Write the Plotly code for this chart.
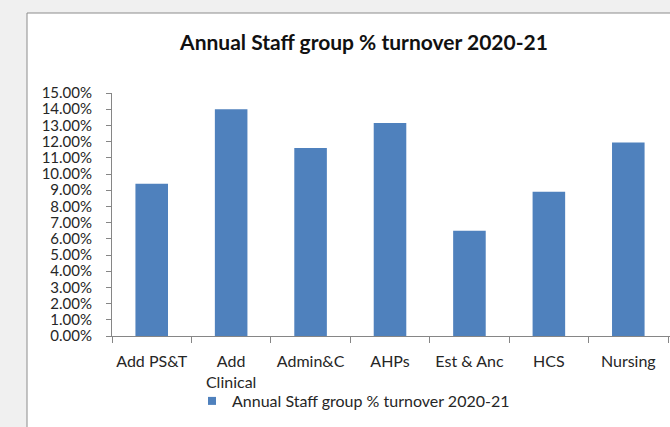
import plotly.graph_objects as go

categories = ["Add PS&T", "Add Clinical", "Admin&C", "AHPs", "Est & Anc", "HCS", "Nursing"]
tick_labels = ["Add PS&T", "Add<br>Clinical", "Admin&C", "AHPs", "Est & Anc", "HCS", "Nursing"]
turnover = [0.094, 0.140, 0.116, 0.1315, 0.065, 0.089, 0.1195]
series_name = "Annual Staff group % turnover 2020-21"
y_ticks = [i / 100 for i in range(0, 16)]

W, H = 670, 427
L, R, T, B = 112, 0, 93, 91
plot_w = W - L - R
plot_h = H - T - B

BAR = "#4F81BD"
AXIS = "#868686"
TXT = "#262626"
FONT = "Lato, Liberation Sans, sans-serif"

fig = go.Figure()
fig.add_trace(go.Bar(
    x=categories, y=turnover, marker=dict(color=BAR, line=dict(width=0)),
    width=0.41, showlegend=False, hoverinfo="x+y",
))
fig.add_trace(go.Scatter(
    x=[None], y=[None], mode="markers", name=series_name,
    marker=dict(symbol="square", size=8, color=BAR),
))


def px_x(px):
    return (px - L) / plot_w


def px_y(py):
    return (H - B - py) / plot_h


fig.add_shape(type="rect", xref="paper", yref="paper", layer="below",
              x0=px_x(27), x1=px_x(700), y0=px_y(460), y1=px_y(13),
              fillcolor="white", line=dict(color="#8c8c8c", width=1))

fig.update_layout(
    width=W, height=H,
    margin=dict(l=L, r=R, t=T, b=B, pad=0),
    paper_bgcolor="#f0f0f0", plot_bgcolor="rgba(0,0,0,0)",
    font=dict(family=FONT, size=16, color=TXT),
    title=dict(text="<b>" + series_name + "</b>", x=364 / W, xanchor="center",
               xref="container", y=1 - 43 / H, yref="container", yanchor="middle",
               font=dict(size=21, color="#111111", family=FONT)),
    bargap=0.59,
    legend=dict(orientation="h", x=px_x(192), xanchor="left", y=px_y(384), yanchor="top",
                font=dict(size=16, color=TXT), bgcolor="rgba(0,0,0,0)",
                itemwidth=30, tracegroupgap=0),
    showlegend=True,
)
fig.update_xaxes(
    type="category", categoryorder="array", categoryarray=categories,
    tickvals=categories, ticktext=tick_labels, tickangle=0,
    range=[-0.5, 6.5 + 2 / 80], showline=True, linecolor=AXIS, linewidth=1,
    ticks="outside", tickson="boundaries", ticklen=6, tickcolor=AXIS,
    showgrid=False, zeroline=False, tickfont=dict(size=16, color=TXT),
    ticklabelstandoff=11,
)
fig.update_yaxes(
    range=[0, 0.15], tickvals=y_ticks, tickformat=".2%",
    showline=True, linecolor=AXIS, linewidth=1, ticks="outside", ticklen=5,
    tickcolor=AXIS, showgrid=False, zeroline=False,
    tickfont=dict(size=15, color=TXT), ticklabelstandoff=11,
)

fig.write_html(
    "out.html",
    config={"displayModeBar": False},
    post_script="document.body.style.margin='0';document.body.style.background='#f0f0f0';",
)
